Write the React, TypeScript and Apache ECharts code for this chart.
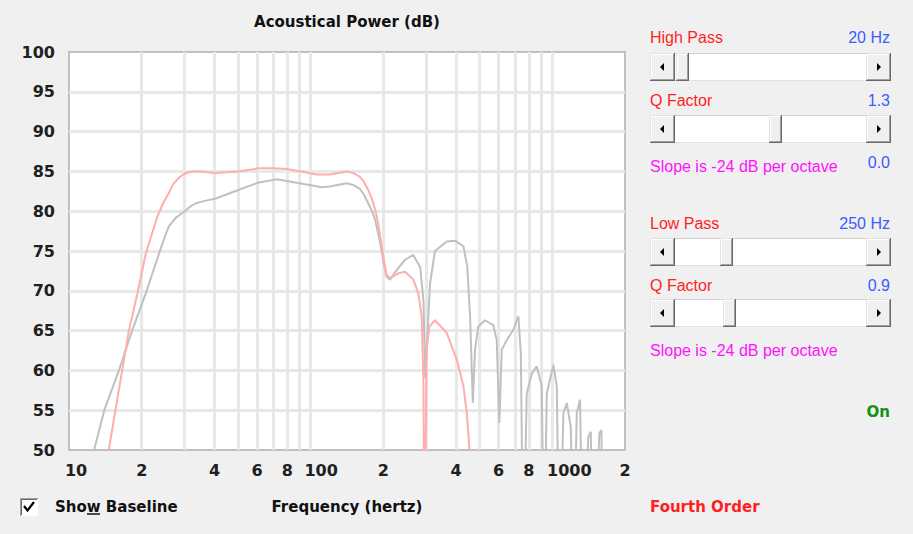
import React, { useEffect, useRef } from 'react';
import * as echarts from 'echarts';

const titleText = 'Acoustical Power (dB)';
const xAxisName = 'Frequency (hertz)';

const baselineFreq = [11, 12.7, 14.0, 16.1, 18.3, 20.8, 23.6, 24.8, 25.9, 27.7, 29.9, 31.5, 33.5, 36.5, 40.5, 50.5, 61, 72.4, 90, 111, 120, 141, 150, 160, 166, 173, 179, 185, 194, 200, 206, 213, 227, 246, 266, 284, 293, 298, 312, 327, 366, 396, 429, 445, 457, 469, 479, 494, 527, 570, 589, 604, 618, 648, 690, 724, 741, 759, 784, 823, 862, 905, 925, 949, 1011, 1044, 1070, 1112, 1148, 1193, 1223, 1263, 1303, 1337, 1411, 1443, 1480, 1567, 1597, 1627];
const baselineDb = [44, 50, 55, 60, 65.1, 69.7, 74.7, 76.6, 78.1, 79.2, 79.9, 80.5, 81.0, 81.3, 81.6, 82.7, 83.6, 84.0, 83.5, 83.0, 83.1, 83.5, 83.3, 82.8, 82.1, 81.0, 80.1, 78.9, 76.0, 73.7, 71.8, 71.4, 72.6, 73.9, 74.5, 73.0, 68.8, 59, 70.9, 75.0, 76.2, 76.3, 75.6, 73.0, 66.8, 55.9, 62.6, 65.5, 66.3, 65.7, 63.8, 53.4, 62.6, 63.8, 65.1, 66.8, 62.2, 35, 57.1, 59.6, 60.5, 58.0, 35, 57.1, 60.7, 58.0, 35, 54.6, 55.9, 52.9, 35, 54.6, 56.3, 35, 51.7, 52.3, 35, 52.1, 52.5, 35];

const responseFreq = [13, 14.6, 16.6, 17.7, 19.2, 20.8, 23.2, 24.5, 25.9, 27.0, 28.5, 30.0, 31.4, 33, 35, 40, 45, 50, 56, 61, 70, 80, 95, 106, 120, 141, 150, 160, 166, 173, 179, 185, 190, 194, 200, 206, 213, 231, 246, 266, 279, 288, 293, 296, 302, 310, 327, 366, 403, 429, 443, 454, 465];
const responseDb = [42, 50, 60, 65, 69.7, 74.7, 79.3, 81.0, 82.3, 83.4, 84.2, 84.7, 84.9, 85.0, 85.0, 84.8, 84.9, 85.0, 85.2, 85.4, 85.4, 85.3, 84.9, 84.6, 84.6, 85.0, 84.8, 84.3, 83.7, 82.7, 81.6, 80.2, 78.6, 76.8, 74.3, 72.0, 71.6, 72.2, 72.4, 71.4, 69.7, 66.8, 58.4, 35, 62.6, 65.5, 66.3, 64.7, 61.3, 58.0, 54.6, 50.2, 45];

const yLabelValues = [50, 55, 60, 65, 70, 75, 80, 85, 90, 95, 100];
const yGridValues = [55, 60, 65, 70, 75, 80, 85, 90, 95];
const xGridFreqs = [20, 30, 40, 50, 60, 70, 80, 90, 100, 200, 300, 400, 500, 600, 700, 800, 900, 1000];
const xLabelFreqs = [10, 20, 40, 60, 80, 100, 200, 400, 600, 800, 1000, 2000];
const xLabelTexts = ['10', '2', '4', '6', '8', '100', '2', '4', '6', '8', '1000', '2'];

const filterNames = ['High Pass', 'Q Factor', 'Low Pass', 'Q Factor'];
const filterValues = ['20 Hz', '1.3', '250 Hz', '0.9'];
const slopeText = 'Slope is -24 dB per octave';
const slopeValue = '0.0';
const statusText = 'On';
const orderText = 'Fourth Order';
const checkboxText = 'Show Baseline';

const RED = '#ff1f1f';
const BLUE = '#3b5bff';
const MAGENTA = '#ff10ff';
const PANEL_FONT = 'Liberation Sans';
const BOLD_FONT = 'DejaVu Sans';

function bevel(x: number, y: number, w: number, h: number) {
  return [
    { type: 'rect', silent: true, shape: { x, y, width: w, height: h }, style: { fill: '#696969' } },
    { type: 'rect', silent: true, shape: { x, y, width: w - 1, height: h - 1 }, style: { fill: '#e3e3e3' } },
    { type: 'rect', silent: true, shape: { x: x + 1, y: y + 1, width: w - 2, height: h - 2 }, style: { fill: '#a0a0a0' } },
    { type: 'rect', silent: true, shape: { x: x + 1, y: y + 1, width: w - 3, height: h - 3 }, style: { fill: '#ffffff' } },
    { type: 'rect', silent: true, shape: { x: x + 2, y: y + 2, width: w - 4, height: h - 4 }, style: { fill: '#f0f0f0' } },
  ];
}

function txt(text: string, x: number, y: number, fill: string, align: string, bold = false, family = PANEL_FONT, size = 16) {
  return {
    type: 'text',
    silent: true,
    x,
    y,
    style: {
      text,
      fill,
      fontFamily: family,
      fontSize: size,
      fontWeight: bold ? 'bold' : 'normal',
      align,
      textAlign: align,
      verticalAlign: 'middle',
      textVerticalAlign: 'middle',
    },
  };
}

function buildPanel() {
  const els: any[] = [];
  const x0 = 650;
  const x1 = 891;
  const h = 28;
  const btnW = 25;
  const thumbW = 13;
  const sliderTops = [53, 115, 238, 299];
  const thumbLefts = [676, 769, 720, 723];
  const labelYs = [37, 100, 223, 285];
  for (let i = 0; i < 4; i++) {
    const y = sliderTops[i];
    els.push({ type: 'rect', silent: true, shape: { x: x0, y, width: x1 - x0, height: h }, style: { fill: '#ffffff' } });
    els.push({ type: 'rect', silent: true, shape: { x: x0, y, width: x1 - x0, height: 1 }, style: { fill: '#cfcfcf' } });
    els.push({ type: 'rect', silent: true, shape: { x: x0, y: y + h - 1, width: x1 - x0, height: 1 }, style: { fill: '#e3e3e3' } });
    els.push(...bevel(x0, y, btnW, h));
    els.push(...bevel(x1 - btnW, y, btnW, h));
    els.push(...bevel(thumbLefts[i], y, thumbW, h));
    const cy = y + h / 2;
    els.push({ type: 'polygon', silent: true, shape: { points: [[660, cy], [664, cy - 4], [664, cy + 4]] }, style: { fill: '#000' } });
    els.push({ type: 'polygon', silent: true, shape: { points: [[881, cy], [877, cy - 4], [877, cy + 4]] }, style: { fill: '#000' } });
    els.push(txt(filterNames[i], x0, labelYs[i], RED, 'left'));
    els.push(txt(filterValues[i], 890, labelYs[i], BLUE, 'right'));
  }
  els.push(txt(slopeText, x0, 166, MAGENTA, 'left'));
  els.push(txt(slopeValue, 890, 162, BLUE, 'right'));
  els.push(txt(slopeText, x0, 350, MAGENTA, 'left'));
  els.push(txt(statusText, 890, 412, '#149014', 'right', true, BOLD_FONT, 15));
  els.push(txt(orderText, x0, 507, RED, 'left', true, BOLD_FONT, 15));

  // checkbox
  els.push({ type: 'rect', silent: true, shape: { x: 20, y: 498, width: 18, height: 18 }, style: { fill: '#ffffff' } });
  els.push({ type: 'rect', silent: true, shape: { x: 20, y: 498, width: 18, height: 1 }, style: { fill: '#a0a0a0' } });
  els.push({ type: 'rect', silent: true, shape: { x: 20, y: 498, width: 1, height: 18 }, style: { fill: '#a0a0a0' } });
  els.push({ type: 'rect', silent: true, shape: { x: 21, y: 499, width: 16, height: 1 }, style: { fill: '#696969' } });
  els.push({ type: 'rect', silent: true, shape: { x: 21, y: 499, width: 1, height: 16 }, style: { fill: '#696969' } });
  els.push({ type: 'polyline', silent: true, shape: { points: [[24, 506], [27.5, 510.5], [34, 502]] }, style: { stroke: '#000', lineWidth: 2.2, fill: null } });
  els.push(txt(checkboxText, 55, 507, '#111111', 'left', true, BOLD_FONT, 15));
  els.push({ type: 'line', silent: true, shape: { x1: 87, y1: 514, x2: 100, y2: 514 }, style: { stroke: '#111', lineWidth: 1.5 } });
  return els;
}

const axisFont = { fontFamily: BOLD_FONT, fontWeight: 'bold', fontSize: 16, color: '#202020' };

export default function App() {
  const ref = useRef<HTMLDivElement>(null);
  useEffect(() => {
    if (!ref.current) return;
    const chart = echarts.init(ref.current, undefined, { renderer: 'svg' });
    const baseline = baselineFreq.map((f, i) => [Math.log10(f), baselineDb[i]]);
    const response = responseFreq.map((f, i) => [Math.log10(f), responseDb[i]]);
    const option: any = {
      animation: false,
      backgroundColor: '#f0f0f0',
      title: {
        text: titleText,
        left: 347,
        top: 14,
        textAlign: 'center',
        padding: 0,
        textStyle: { fontFamily: BOLD_FONT, fontWeight: 'bold', fontSize: 15, color: '#111111' },
      },
      grid: {
        left: 69,
        top: 52,
        right: 288,
        bottom: 84,
        show: true,
        backgroundColor: '#ffffff',
        borderColor: '#c0c0c0',
        borderWidth: 2,
        containLabel: false,
      },
      xAxis: {
        type: 'value',
        min: 1,
        max: Math.log10(2000),
        name: xAxisName,
        nameLocation: 'middle',
        nameGap: 49,
        nameTextStyle: { fontFamily: BOLD_FONT, fontWeight: 'bold', fontSize: 15, color: '#111111' },
        axisLine: { show: false },
        axisTick: { show: false, customValues: xGridFreqs.map((f) => Math.log10(f)) },
        splitLine: { show: true, lineStyle: { color: '#e8e8e8', width: 3 } },
        axisLabel: {
          ...axisFont,
          margin: 12,
          customValues: xLabelFreqs.map((f) => Math.log10(f)),
          formatter: (val: number) => {
            const i = xLabelFreqs.findIndex((f) => Math.abs(Math.log10(f) - val) < 1e-6);
            const t = i >= 0 ? xLabelTexts[i] : '';
            if (t.length > 1) return `{d${t.length}|${t}}`;
            return t;
          },
          rich: {
            d2: { ...axisFont, padding: [0, 0, 0, 14] },
            d3: { ...axisFont, padding: [0, 0, 0, 21] },
            d4: { ...axisFont, padding: [0, 0, 0, 34] },
          },
        },
      },
      yAxis: {
        type: 'value',
        min: 50,
        max: 100,
        interval: 5,
        axisLine: { show: false },
        axisTick: { show: false, customValues: yGridValues },
        splitLine: { show: true, lineStyle: { color: '#e8e8e8', width: 3 } },
        axisLabel: { ...axisFont, margin: 14, customValues: yLabelValues },
      },
      series: [
        {
          type: 'line',
          data: baseline,
          showSymbol: false,
          symbol: 'none',
          silent: true,
          clip: true,
          lineStyle: { color: '#c0c0c0', width: 2 },
        },
        {
          type: 'line',
          data: response,
          showSymbol: false,
          symbol: 'none',
          silent: true,
          clip: true,
          lineStyle: { color: '#ffadad', width: 2 },
        },
      ],
      graphic: { elements: buildPanel() },
    };
    chart.setOption(option);
    return () => chart.dispose();
  }, []);
  return (
    <div
      ref={ref}
      style={{ position: 'absolute', left: 0, top: 0, width: 913, height: 534 }}
    />
  );
}
